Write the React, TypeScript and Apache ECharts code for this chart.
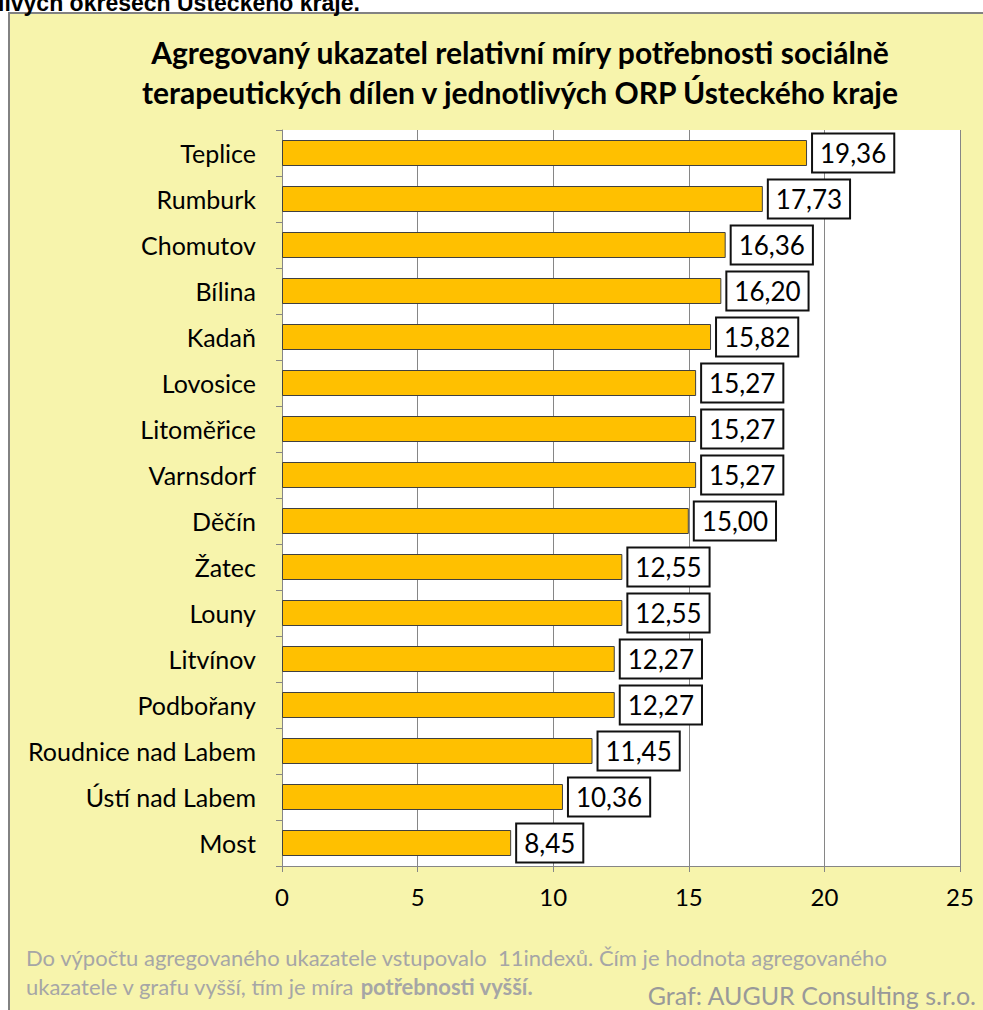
import React, { useEffect, useRef } from "react";
import * as echarts from "echarts";

const categories = [
  "Teplice", "Rumburk", "Chomutov", "Bílina", "Kadaň", "Lovosice", "Litoměřice", "Varnsdorf",
  "Děčín", "Žatec", "Louny", "Litvínov", "Podbořany", "Roudnice nad Labem", "Ústí nad Labem", "Most",
];
const values = [19.36, 17.73, 16.36, 16.2, 15.82, 15.27, 15.27, 15.27, 15.0, 12.55, 12.55, 12.27, 12.27, 11.45, 10.36, 8.45];
const xTicks = [0, 5, 10, 15, 20, 25];

const titleLines = [
  "Agregovaný ukazatel relativní míry potřebnosti sociálně",
  "terapeutických dílen v jednotlivých ORP Ústeckého kraje",
];
const headerText = "livých okresech Ústeckého kraje.";
const noteLine1 = "Do výpočtu agregovaného ukazatele vstupovalo  11indexů. Čím je hodnota agregovaného";
const noteLine2a = "ukazatele v grafu vyšší, tím je míra ";
const noteLine2b = "potřebnosti vyšší.";
const sourceText = "Graf: AUGUR Consulting s.r.o.";

const FONT = "Lato, 'Open Sans', sans-serif";

export default function App() {
  const ref = useRef<HTMLDivElement>(null);
  useEffect(() => {
    if (!ref.current) return;
    const chart = echarts.init(ref.current, null, { renderer: "svg" });
    chart.setOption({
      animation: false,
      backgroundColor: "#ffffff",
      textStyle: { fontFamily: FONT },
      graphic: [
        {
          type: "rect",
          z: -100,
          shape: { x: 9, y: 13, width: 1000, height: 1020 },
          style: { fill: "#F7F4AC", stroke: "#828282", lineWidth: 2 },
        },
        {
          type: "text",
          x: -2,
          y: 14,
          style: {
            text: headerText,
            font: "bold 23px Arial, 'Liberation Sans', sans-serif",
            fill: "#000",
            verticalAlign: "bottom",
          },
        },
        {
          type: "text",
          x: 520,
          y: 72,
          style: {
            text: titleLines.join("\n"),
            font: `bold 30px ${FONT}`,
            fill: "#000",
            align: "center",
            verticalAlign: "middle",
            lineHeight: 40,
          },
        },
        {
          type: "text",
          x: 26,
          y: 943,
          style: {
            text: `{n|${noteLine1}}\n{n|${noteLine2a}}{b|${noteLine2b}}`,
            fill: "#A6A6A6",
            rich: {
              n: { fontSize: 22, fontFamily: FONT, fill: "#A6A6A6", lineHeight: 29 },
              b: { fontSize: 22, fontFamily: FONT, fontWeight: "bold", fill: "#A6A6A6", lineHeight: 29 },
            },
          } as any,
        },
        {
          type: "text",
          x: 976,
          y: 995,
          style: {
            text: sourceText,
            font: `25px ${FONT}`,
            fill: "#999999",
            align: "right",
            verticalAlign: "middle",
          },
        },
      ],
      grid: {
        left: 282,
        top: 130,
        right: 23,
        bottom: 144,
        show: true,
        backgroundColor: "#ffffff",
        borderWidth: 0,
      },
      xAxis: {
        type: "value",
        min: 0,
        max: 25,
        interval: 5,
        axisLine: { show: true, lineStyle: { color: "#868686", width: 1 } },
        axisTick: { show: true, length: 6, lineStyle: { color: "#868686" } },
        splitLine: { show: true, lineStyle: { color: "#868686", width: 1 } },
        axisLabel: {
          margin: 18,
          fontSize: 24,
          color: "#000",
          fontFamily: FONT,
          formatter: (v: number) => (xTicks.includes(v) ? String(v) : ""),
        },
      },
      yAxis: {
        type: "category",
        data: categories,
        inverse: true,
        axisLine: { show: true, lineStyle: { color: "#868686", width: 1 } },
        axisTick: { show: true, length: 6, lineStyle: { color: "#868686" } },
        axisLabel: { margin: 26, fontSize: 25, color: "#000", fontFamily: FONT },
      },
      series: [
        {
          type: "bar",
          data: values,
          barWidth: 26,
          itemStyle: { color: "#FFC000", borderColor: "#404040", borderWidth: 1 },
          label: {
            show: true,
            position: "right",
            distance: 6,
            formatter: (p: any) => p.value.toFixed(2).replace(".", ","),
            fontSize: 26,
            fontFamily: FONT,
            color: "#000",
            backgroundColor: "#ffffff",
            borderColor: "#111",
            borderWidth: 2,
            padding: [6, 7, 5, 7],
          },
        },
      ],
    });
    return () => chart.dispose();
  }, []);
  return (
    <div
      ref={ref}
      style={{ position: "fixed", left: 0, top: 0, width: 983, height: 1010 }}
    />
  );
}
